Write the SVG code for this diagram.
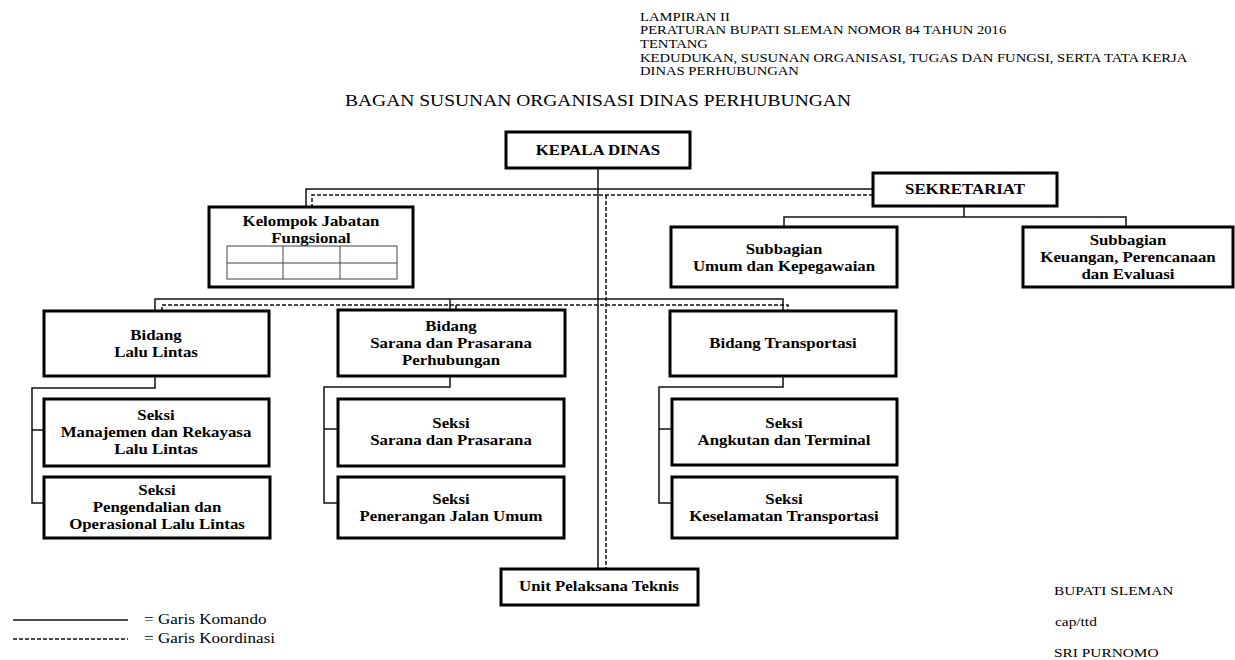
<svg xmlns="http://www.w3.org/2000/svg" width="1235" height="660" viewBox="0 0 1235 660">
  <style>
    .box { fill: #fff; stroke: #000; stroke-width: 3; }
    .grid { fill: none; stroke: #444; stroke-width: 1; }
    .cmd { fill: none; stroke: #111; stroke-width: 1.5; }
    .crd { fill: none; stroke: #111; stroke-width: 1.5; stroke-dasharray: 4 2; }
    .bx { font-family: "Liberation Serif", "Times New Roman", serif; font-weight: bold; font-size: 13.8px; fill: #000; text-anchor: middle; }
    .hd { font-family: "Liberation Serif", "Times New Roman", serif; font-size: 12px; fill: #000; }
    .tt { font-family: "Liberation Serif", "Times New Roman", serif; font-size: 16px; fill: #000; text-anchor: middle; }
    .lg { font-family: "Liberation Serif", "Times New Roman", serif; font-size: 14px; fill: #000; }
    .sg { font-family: "Liberation Serif", "Times New Roman", serif; font-size: 12.6px; fill: #000; }
  </style>

  <rect width="1235" height="660" fill="#fff"/>

  <!-- header block -->
  <g id="header">
    <text class="hd" transform="translate(640,21) scale(1.22,1)">LAMPIRAN II</text>
    <text class="hd" transform="translate(640,34) scale(1.22,1)">PERATURAN BUPATI SLEMAN NOMOR 84 TAHUN 2016</text>
    <text class="hd" transform="translate(640,48) scale(1.22,1)">TENTANG</text>
    <text class="hd" transform="translate(640,62) scale(1.22,1)">KEDUDUKAN, SUSUNAN ORGANISASI, TUGAS DAN FUNGSI, SERTA TATA KERJA</text>
    <text class="hd" transform="translate(640,75) scale(1.22,1)">DINAS PERHUBUNGAN</text>
  </g>

  <g id="title">
    <text class="tt" transform="translate(598,106) scale(1.22,1)">BAGAN SUSUNAN ORGANISASI DINAS PERHUBUNGAN</text>
  </g>

  <!-- connectors: solid = command, dashed = coordination -->
  <g id="connectors">
    <path class="cmd" d="M598,168 V568"/>
    <path class="cmd" d="M873,189 H306 V207"/>
    <path class="cmd" d="M964,206 V217 M784,227 V217 H1126 V227"/>
    <path class="cmd" d="M155,311 V299 H783 V311 M450,299 V310"/>
    <path class="cmd" d="M155,376 V388 H32 V503 H44 M32,430 H44"/>
    <path class="cmd" d="M450,376 V387 H324 V503 H338 M324,429 H338"/>
    <path class="cmd" d="M783,376 V387 H659 V503 H672 M659,429 H672"/>
    <path class="crd" d="M873,195 H312 V207"/>
    <path class="crd" d="M606,195 V568"/>
    <path class="crd" d="M162,311 V305 H788 V311 M456,305 V310"/>
  </g>

  <g id="kepala-dinas">
    <rect class="box" x="506" y="132" width="184" height="36"/>
    <text class="bx" transform="translate(598,155) scale(1.22,1)">KEPALA DINAS</text>
  </g>

  <g id="sekretariat">
    <rect class="box" x="873" y="173" width="184" height="33"/>
    <text class="bx" transform="translate(965,194) scale(1.22,1)">SEKRETARIAT</text>
  </g>

  <g id="kelompok-jabatan-fungsional">
    <rect class="box" x="209" y="207" width="204" height="80"/>
    <text class="bx" transform="translate(311,226) scale(1.22,1)"><tspan x="0">Kelompok Jabatan</tspan><tspan x="0" dy="17">Fungsional</tspan></text>
    <rect class="grid" x="227" y="246" width="170" height="33"/>
    <path class="grid" d="M227,263 H397 M283,246 V279 M340,246 V279"/>
  </g>

  <g id="subbagian-umum">
    <rect class="box" x="671" y="227" width="226" height="60"/>
    <text class="bx" transform="translate(784,254) scale(1.22,1)"><tspan x="0">Subbagian</tspan><tspan x="0" dy="17">Umum dan Kepegawaian</tspan></text>
  </g>

  <g id="subbagian-keuangan">
    <rect class="box" x="1023" y="227" width="210" height="60"/>
    <text class="bx" transform="translate(1128,245) scale(1.22,1)"><tspan x="0">Subbagian</tspan><tspan x="0" dy="17">Keuangan, Perencanaan</tspan><tspan x="0" dy="17">dan Evaluasi</tspan></text>
  </g>

  <g id="bidang-lalu-lintas">
    <rect class="box" x="44" y="311" width="225" height="65"/>
    <text class="bx" transform="translate(156,340) scale(1.22,1)"><tspan x="0">Bidang</tspan><tspan x="0" dy="17">Lalu Lintas</tspan></text>
  </g>

  <g id="bidang-sarana-prasarana">
    <rect class="box" x="338" y="310" width="227" height="66"/>
    <text class="bx" transform="translate(451,331) scale(1.22,1)"><tspan x="0">Bidang</tspan><tspan x="0" dy="17">Sarana dan Prasarana</tspan><tspan x="0" dy="17">Perhubungan</tspan></text>
  </g>

  <g id="bidang-transportasi">
    <rect class="box" x="670" y="311" width="226" height="65"/>
    <text class="bx" transform="translate(783,348) scale(1.22,1)">Bidang Transportasi</text>
  </g>

  <g id="seksi-manajemen-rekayasa">
    <rect class="box" x="44" y="399" width="225" height="67"/>
    <text class="bx" transform="translate(156,420) scale(1.22,1)"><tspan x="0">Seksi</tspan><tspan x="0" dy="17">Manajemen dan Rekayasa</tspan><tspan x="0" dy="17">Lalu Lintas</tspan></text>
  </g>

  <g id="seksi-pengendalian-operasional">
    <rect class="box" x="44" y="477" width="226" height="61"/>
    <text class="bx" transform="translate(157,495) scale(1.22,1)"><tspan x="0">Seksi</tspan><tspan x="0" dy="17">Pengendalian dan</tspan><tspan x="0" dy="17">Operasional Lalu Lintas</tspan></text>
  </g>

  <g id="seksi-sarana-prasarana">
    <rect class="box" x="338" y="399" width="226" height="67"/>
    <text class="bx" transform="translate(451,428) scale(1.22,1)"><tspan x="0">Seksi</tspan><tspan x="0" dy="17">Sarana dan Prasarana</tspan></text>
  </g>

  <g id="seksi-penerangan-jalan">
    <rect class="box" x="338" y="477" width="226" height="61"/>
    <text class="bx" transform="translate(451,504) scale(1.22,1)"><tspan x="0">Seksi</tspan><tspan x="0" dy="17">Penerangan Jalan Umum</tspan></text>
  </g>

  <g id="seksi-angkutan-terminal">
    <rect class="box" x="672" y="399" width="225" height="66"/>
    <text class="bx" transform="translate(784,428) scale(1.22,1)"><tspan x="0">Seksi</tspan><tspan x="0" dy="17">Angkutan dan Terminal</tspan></text>
  </g>

  <g id="seksi-keselamatan">
    <rect class="box" x="672" y="477" width="225" height="61"/>
    <text class="bx" transform="translate(784,504) scale(1.22,1)"><tspan x="0">Seksi</tspan><tspan x="0" dy="17">Keselamatan Transportasi</tspan></text>
  </g>

  <g id="unit-pelaksana-teknis">
    <rect class="box" x="501" y="569" width="197" height="36"/>
    <text class="bx" transform="translate(599,591) scale(1.22,1)">Unit Pelaksana Teknis</text>
  </g>

  <!-- line legend -->
  <g id="legend">
    <path class="cmd" d="M13,620 H128"/>
    <text class="lg" transform="translate(144,624) scale(1.22,1)">= Garis Komando</text>
    <path class="crd" d="M13,639 H128"/>
    <text class="lg" transform="translate(144,643) scale(1.22,1)">= Garis Koordinasi</text>
  </g>

  <!-- signature block -->
  <g id="signature">
    <text class="sg" transform="translate(1054,595) scale(1.22,1)">BUPATI SLEMAN</text>
    <text class="sg" transform="translate(1055,626) scale(1.22,1)">cap/ttd</text>
    <text class="sg" transform="translate(1054,657) scale(1.22,1)">SRI PURNOMO</text>
  </g>
</svg>
